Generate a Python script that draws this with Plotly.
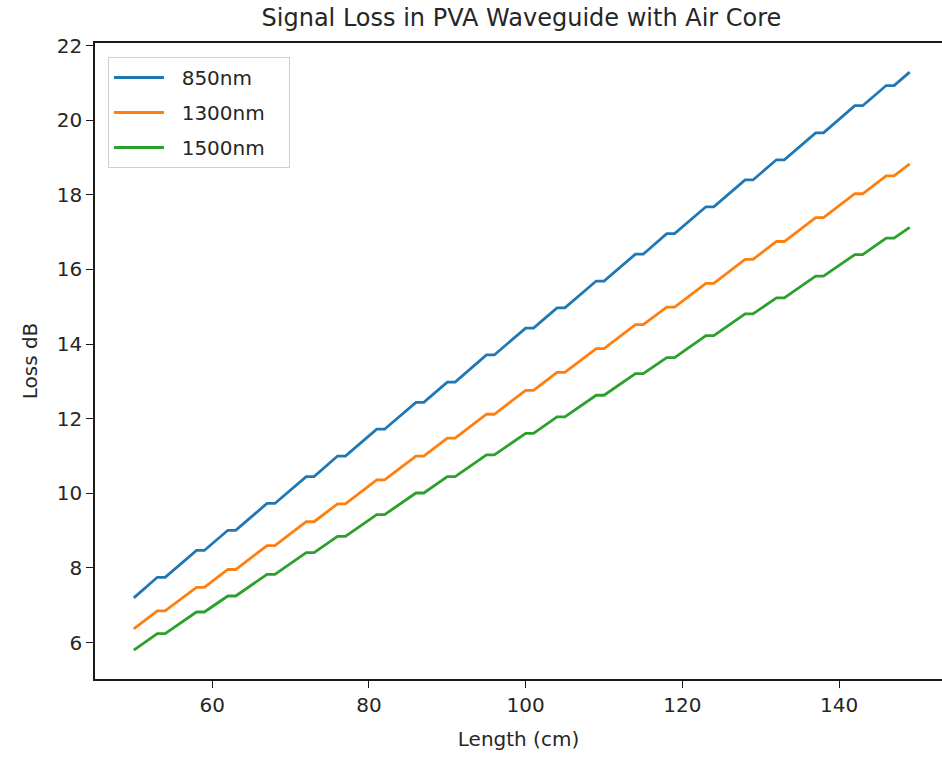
import plotly.graph_objects as go

# Length (cm) at the vertices of the stepped lines (start, flat segments, end)
length_cm = [50, 53, 54, 58, 59, 62, 63, 67, 68, 72, 73, 76, 77, 81, 82, 86, 87,
             90, 91, 95, 96, 100, 101, 104, 105, 109, 110, 114, 115, 118, 119,
             123, 124, 128, 129, 132, 133, 137, 138, 142, 143, 146, 147, 149]

loss_850 = [7.20, 7.75, 7.75, 8.47, 8.47, 9.01, 9.01, 9.73, 9.73, 10.45, 10.45,
            11.00, 11.00, 11.72, 11.72, 12.44, 12.44, 12.98, 12.98, 13.71, 13.71,
            14.43, 14.43, 14.97, 14.97, 15.69, 15.69, 16.41, 16.41, 16.96, 16.96,
            17.68, 17.68, 18.40, 18.40, 18.94, 18.94, 19.66, 19.66, 20.39, 20.39,
            20.93, 20.93, 21.29]

loss_1300 = [6.37, 6.85, 6.85, 7.48, 7.48, 7.96, 7.96, 8.60, 8.60, 9.24, 9.24,
             9.72, 9.72, 10.36, 10.36, 11.00, 11.00, 11.48, 11.48, 12.12, 12.12,
             12.76, 12.76, 13.24, 13.24, 13.88, 13.88, 14.52, 14.52, 14.99, 14.99,
             15.63, 15.63, 16.27, 16.27, 16.75, 16.75, 17.39, 17.39, 18.03, 18.03,
             18.51, 18.51, 18.83]

loss_1500 = [5.80, 6.24, 6.24, 6.82, 6.82, 7.25, 7.25, 7.83, 7.83, 8.41, 8.41,
             8.85, 8.85, 9.43, 9.43, 10.01, 10.01, 10.45, 10.45, 11.03, 11.03,
             11.61, 11.61, 12.05, 12.05, 12.63, 12.63, 13.21, 13.21, 13.64, 13.64,
             14.23, 14.23, 14.81, 14.81, 15.24, 15.24, 15.82, 15.82, 16.40, 16.40,
             16.84, 16.84, 17.13]

series_names = ["850nm", "1300nm", "1500nm"]
series_values = [loss_850, loss_1300, loss_1500]
series_colors = ["#1f77b4", "#ff7f0e", "#2ca02c"]

x_ticks = [60, 80, 100, 120, 140]
y_ticks = [6, 8, 10, 12, 14, 16, 18, 20, 22]

FONT = "DejaVu Sans"
TXT = "#262626"
NB = "\u00a0"

fig = go.Figure()
for i, (name, vals, col) in enumerate(zip(series_names, series_values, series_colors)):
    fig.add_trace(go.Scatter(
        x=length_cm, y=vals, mode="lines", name=NB * 2 + name + NB * 3,
        line=dict(color=col, width=2.8), legendgroup=f"g{i}",
    ))

fig.update_layout(
    width=942, height=757,
    margin=dict(l=95, r=0, t=43, b=78, autoexpand=False),
    paper_bgcolor="white", plot_bgcolor="white",
    font=dict(family=FONT, size=20, color=TXT),
    title=dict(text="Signal Loss in PVA Waveguide with Air Core",
               x=0.5035, xref="paper", xanchor="center",
               y=1 - 18 / 757, yref="container", yanchor="middle",
               automargin=False,
               font=dict(family=FONT, size=24, color=TXT)),
    showlegend=True,
    legend=dict(x=0.0153, y=0.978, xanchor="left", yanchor="top",
                bgcolor="rgba(255,255,255,0.8)", bordercolor="#d0d0d0", borderwidth=1,
                font=dict(family=FONT, size=20, color=TXT),
                tracegroupgap=6, itemwidth=50),
)

fig.update_xaxes(
    range=[45.05, 153.12], tickvals=x_ticks, ticktext=[str(v) for v in x_ticks],
    automargin=False,
    showgrid=False, zeroline=False,
    showline=True, linecolor="#1a1a1a", linewidth=1.6, mirror=True,
    ticks="outside", ticklen=7, tickwidth=1.4, tickcolor="#1a1a1a",
    tickfont=dict(family=FONT, size=20, color=TXT),
    title=dict(text="Length (cm)", font=dict(family=FONT, size=20, color=TXT), standoff=16),
)
fig.update_yaxes(
    range=[5.025, 22.07], tickvals=y_ticks, ticktext=[str(v) for v in y_ticks],
    automargin=False,
    showgrid=False, zeroline=False,
    showline=True, linecolor="#1a1a1a", linewidth=1.6, mirror=False,
    ticks="outside", ticklen=7, tickwidth=1.4, tickcolor="#1a1a1a",
    tickfont=dict(family=FONT, size=20, color=TXT),
    title=dict(text="Loss dB", font=dict(family=FONT, size=20, color=TXT), standoff=14),
)

fig.write_html(
    "out.html",
    config={"displayModeBar": False},
    post_script=("document.body.style.margin='0';"
                 "document.body.style.overflow='hidden';"
                 "document.documentElement.style.overflow='hidden';"),
)
